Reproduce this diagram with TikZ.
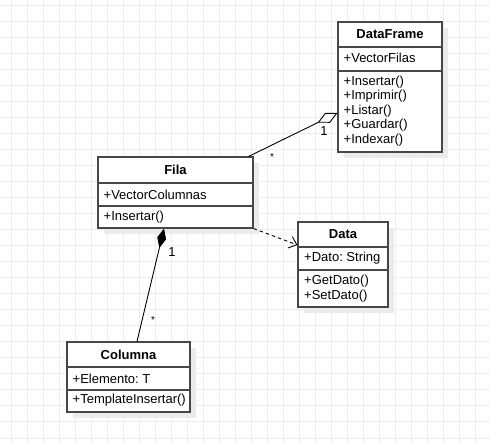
\documentclass[tikz,border=0pt]{standalone}
\usepackage{fontspec}
\setmainfont{Liberation Sans}
\usetikzlibrary{arrows.meta,shadows}
\frenchspacing
\begin{document}
\begin{tikzpicture}[x=1pt,y=-1pt,
  classbox/.style={draw=black!72, line width=1.1pt, fill=white, rectangle, inner sep=0pt,
    drop shadow={shadow xshift=6pt, shadow yshift=-6pt, fill=black!8, opacity=1}},
  sepline/.style={draw=black!72, line width=1.1pt},
  title/.style={font=\fontsize{13}{14}\selectfont\bfseries, inner sep=0pt},
  member/.style={font=\fontsize{13}{14}\selectfont, inner sep=0pt, anchor=west},
  mult/.style={font=\fontsize{13}{14}\selectfont, inner sep=0pt},
  star/.style={font=\fontsize{10}{10}\selectfont, inner sep=0pt},
  assoc/.style={draw=black, line width=0.9pt}
]
\useasboundingbox (0,0) rectangle (490,443);
\fill[white] (0,0) rectangle (490,443);

% background grid
\foreach \gx in {0,...,29} \draw[black!7, line width=1pt] (11.5+16*\gx,0) -- (11.5+16*\gx,443);
\foreach \gy in {0,...,27} \draw[black!7, line width=1pt] (0,6+16*\gy) -- (490,6+16*\gy);

% DataFrame
\node[classbox, minimum width=104pt, minimum height=130pt] (df) at (390,87) {};
\draw[sepline] (338,47) -- (442,47);
\draw[sepline] (338,71) -- (442,71);
\node[title] (dfT) at (390,34.5) {DataFrame};
\node[member] (dfA) at (343.5,58) {+VectorFilas};
\node[member] (dfM1) at (343.5,82) {+Insertar()};
\node[member] (dfM2) at (343.5,96.5) {+Imprimir()};
\node[member] (dfM3) at (343.5,111) {+Listar()};
\node[member] (dfM4) at (343.5,125.5) {+Guardar()};
\node[member] (dfM5) at (343.5,140) {+Indexar()};

% Fila
\node[classbox, minimum width=155pt, minimum height=71pt] (fila) at (175.5,192.5) {};
\draw[sepline] (98,183) -- (253,183);
\draw[sepline] (98,206) -- (253,206);
\node[title] (filaT) at (175.5,170) {Fila};
\node[member] (filaA) at (103.5,194.5) {+VectorColumnas};
\node[member] (filaM) at (103.5,217) {+Insertar()};

% Data
\node[classbox, minimum width=90pt, minimum height=85pt] (data) at (343,264.5) {};
\draw[sepline] (298,247) -- (388,247);
\draw[sepline] (298,270) -- (388,270);
\node[title] (dataT) at (343,234.5) {Data};
\node[member] (dataA) at (304,258.5) {+Dato: String};
\node[member] (dataM1) at (304,281) {+GetDato()};
\node[member] (dataM2) at (304,296) {+SetDato()};

% Columna
\node[classbox, minimum width=123pt, minimum height=70pt] (col) at (128.5,377) {};
\draw[sepline] (67,367) -- (190,367);
\draw[sepline] (67,390) -- (190,390);
\node[title] (colT) at (128.5,355) {Columna};
\node[member] (colA) at (72.5,378.5) {+Elemento: T};
\node[member] (colM) at (72.5,400.5) {+TemplateInsertar()};

% aggregation Fila -> DataFrame
\draw[assoc, -{Diamond[open, fill=white, length=22pt, width=11pt]}]
  ([xshift=-5pt]fila.north east) -- ([yshift=-26pt]df.west);
\node[mult] (aggOne) at (324,131) {1};
\node[star] (aggMany) at (272,157) {*};

% composition Columna -> Fila
\draw[assoc, -{Diamond[length=20pt, width=9pt]}]
  ([xshift=8.5pt]col.north) -- ([xshift=-11.5pt]fila.south);
\node[mult] (compOne) at (172,252) {1};
\node[star] (compMany) at (153,320) {*};

% dependency Fila -> Data
\draw[assoc, dash pattern=on 3.5pt off 3pt, -{Straight Barb[length=7pt, width=12pt]}]
  (fila.south east) -- ([yshift=19.5pt]data.west);
\end{tikzpicture}
\end{document}
